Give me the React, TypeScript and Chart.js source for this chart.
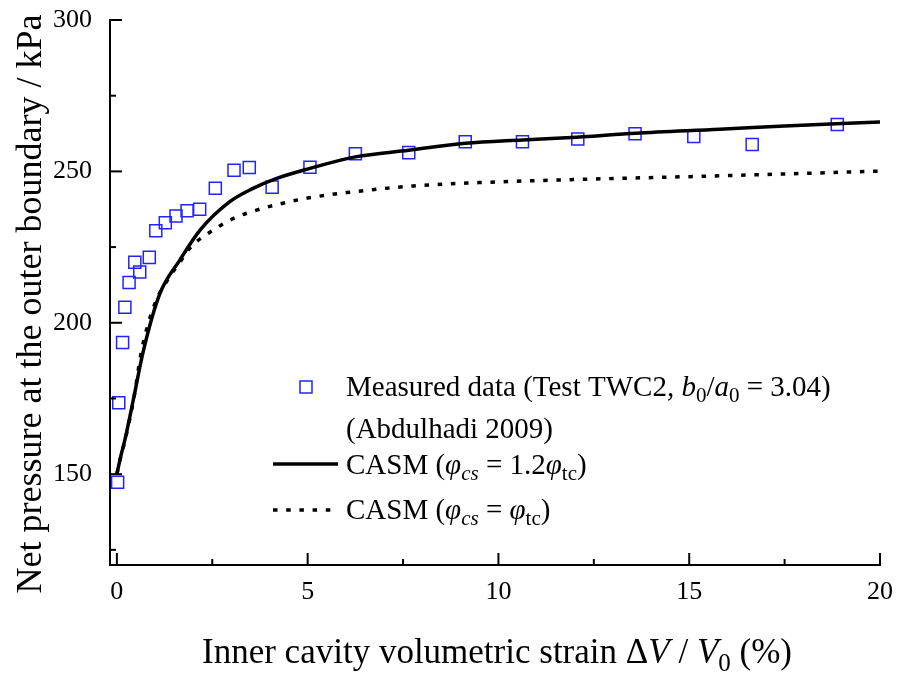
import React, { useEffect, useRef } from "react";
import { Chart, registerables } from "chart.js";

Chart.register(...registerables);

// Measured data (Test TWC2, Abdulhadi 2009)
const measuredX = [0.02, 0.05, 0.15, 0.21, 0.32, 0.47, 0.6, 0.85, 1.02, 1.27, 1.55, 1.84, 2.17, 2.58, 3.07, 3.47, 4.07, 5.06, 6.25, 7.65, 9.13, 10.63, 12.08, 13.58, 15.12, 16.65, 18.88];
const measuredY = [147.3, 173.6, 193.5, 205.1, 213.3, 220.0, 216.8, 221.6, 230.4, 233.0, 235.3, 237.0, 237.5, 244.4, 250.4, 251.3, 244.8, 251.4, 255.8, 256.2, 259.8, 259.8, 260.7, 262.4, 261.5, 258.9, 265.5];

// CASM prediction, phi_cs = 1.2 phi_tc
const casmHighX = [0, 0.1, 0.21, 0.43, 0.69, 1.13, 1.65, 2.18, 2.96, 3.57, 4.19, 5.06, 6.25, 7.65, 9.13, 10.63, 12.05, 13.6, 15.8, 17.5, 20];
const casmHighY = [150, 155.8, 161.3, 174.5, 190.5, 209.7, 220.7, 230.6, 240, 244.4, 247.7, 251, 254.8, 257, 259.3, 260.4, 261.3, 262.6, 263.9, 265.0, 266.3];

// CASM prediction, phi_cs = phi_tc
const casmLowX = [0, 0.1, 0.21, 0.43, 0.65, 1.0, 1.4, 1.65, 1.87, 2.09, 2.39, 3.01, 3.66, 4.32, 5.0, 6.02, 7.77, 9.51, 12.0, 16.0, 20];
const casmLowY = [150, 155.6, 161, 174, 191, 206.4, 215.5, 220, 224, 226.8, 229.5, 234.2, 237.2, 239.4, 241.2, 243, 245.2, 246.3, 247.3, 248.6, 250.1];

const xMajorTicks = [0, 5, 10, 15, 20];
const xMinorTicks = [2.5, 7.5, 12.5, 17.5];
const yMajorTicks = [150, 200, 250, 300];
const yMinorTicks = [125, 175, 225, 275];

const FONT = '"Liberation Serif", "Times New Roman", serif';
const MARKER_BLUE = "#2323ff";

type Seg = { t: string; i?: boolean; sub?: boolean };

function segFont(s: Seg, size: number) {
  const sz = s.sub ? Math.round(size * 0.72) : size;
  return `${s.i ? "italic " : ""}${sz}px ${FONT}`;
}

function richWidth(ctx: CanvasRenderingContext2D, segs: Seg[], size: number) {
  let w = 0;
  for (const s of segs) {
    ctx.font = segFont(s, size);
    w += ctx.measureText(s.t).width;
  }
  return w;
}

function drawRich(ctx: CanvasRenderingContext2D, segs: Seg[], x: number, y: number, size: number) {
  ctx.textBaseline = "alphabetic";
  ctx.textAlign = "left";
  let cx = x;
  for (const s of segs) {
    ctx.font = segFont(s, size);
    ctx.fillText(s.t, cx, s.sub ? y + size * 0.22 : y);
    cx += ctx.measureText(s.t).width;
  }
}

const legendMeasured: Seg[] = [
  { t: "Measured data (Test TWC2, " },
  { t: "b", i: true },
  { t: "0", sub: true },
  { t: "/" },
  { t: "a", i: true },
  { t: "0", sub: true },
  { t: " = 3.04)" },
];
const legendSource: Seg[] = [{ t: "(Abdulhadi 2009)" }];
const legendHigh: Seg[] = [
  { t: "CASM (" },
  { t: "φ", i: true },
  { t: "cs", i: true, sub: true },
  { t: " = 1.2" },
  { t: "φ", i: true },
  { t: "tc", sub: true },
  { t: ")" },
];
const legendLow: Seg[] = [
  { t: "CASM (" },
  { t: "φ", i: true },
  { t: "cs", i: true, sub: true },
  { t: " = " },
  { t: "φ", i: true },
  { t: "tc", sub: true },
  { t: ")" },
];
const xTitle: Seg[] = [
  { t: "Inner cavity volumetric strain Δ" },
  { t: "V", i: true },
  { t: " / " },
  { t: "V", i: true },
  { t: "0", sub: true },
  { t: " (%)" },
];
const yTitle: Seg[] = [{ t: "Net pressure at the outer boundary / kPa" }];

const DOT_DASH = [4.5, 8.7];

// plot frame inside the 901x675 canvas
const FRAME = { left: 110, right: 880, top: 20, bottom: 565 };

const decorPlugin = {
  id: "decor",
  afterDraw(chart: any) {
    const ctx: CanvasRenderingContext2D = chart.ctx;
    const xs = chart.scales.x;
    const ys = chart.scales.y;
    const { left, bottom } = chart.chartArea;
    ctx.save();
    ctx.strokeStyle = "#000";
    ctx.lineWidth = 2;
    ctx.lineCap = "butt";
    // inward tick marks
    const tick = (x1: number, y1: number, x2: number, y2: number) => {
      ctx.beginPath();
      ctx.moveTo(x1, y1);
      ctx.lineTo(x2, y2);
      ctx.stroke();
    };
    for (const v of xMajorTicks) {
      const px = xs.getPixelForValue(v);
      tick(px, bottom, px, bottom - 12);
    }
    for (const v of xMinorTicks) {
      const px = xs.getPixelForValue(v);
      tick(px, bottom, px, bottom - 6);
    }
    for (const v of yMajorTicks) {
      const py = ys.getPixelForValue(v);
      tick(left, py, left + 12, py);
    }
    for (const v of yMinorTicks) {
      const py = ys.getPixelForValue(v);
      tick(left, py, left + 6, py);
    }

    // legend
    ctx.fillStyle = "#000";
    const size = 29;
    ctx.strokeStyle = MARKER_BLUE;
    ctx.lineWidth = 1.5;
    ctx.strokeRect(300, 381, 12, 12);
    drawRich(ctx, legendMeasured, 346, 396, size);
    drawRich(ctx, legendSource, 346, 438, size);

    ctx.strokeStyle = "#000";
    ctx.lineWidth = 3.5;
    ctx.beginPath();
    ctx.moveTo(273, 464);
    ctx.lineTo(338, 464);
    ctx.stroke();
    drawRich(ctx, legendHigh, 346, 474, size);

    ctx.setLineDash(DOT_DASH);
    ctx.beginPath();
    ctx.moveTo(273, 510);
    ctx.lineTo(338, 510);
    ctx.stroke();
    ctx.setLineDash([]);
    drawRich(ctx, legendLow, 346, 519, size);

    // axis titles
    const xsize = 35;
    const xw = richWidth(ctx, xTitle, xsize);
    drawRich(ctx, xTitle, 497 - xw / 2, 663, xsize);

    const ysize = 36;
    const yw = richWidth(ctx, yTitle, ysize);
    ctx.translate(41, 304);
    ctx.rotate(-Math.PI / 2);
    drawRich(ctx, yTitle, -yw / 2, 0, ysize);
    ctx.restore();
  },
};

export default function App() {
  const canvasRef = useRef<HTMLCanvasElement | null>(null);

  useEffect(() => {
    document.body.style.margin = "0";
    const canvas = canvasRef.current;
    if (!canvas) return;

    const chart = new Chart(canvas, {
      type: "scatter",
      data: {
        datasets: [
          {
            label: "CASM high",
            data: casmHighX.map((x, i) => ({ x, y: casmHighY[i] })),
            showLine: true,
            borderColor: "#000",
            borderWidth: 3.5,
            pointRadius: 0,
            cubicInterpolationMode: "monotone",
            clip: false,
          },
          {
            label: "CASM low",
            data: casmLowX.map((x, i) => ({ x, y: casmLowY[i] })),
            showLine: true,
            borderColor: "#000",
            borderWidth: 3.5,
            borderDash: DOT_DASH,
            pointRadius: 0,
            cubicInterpolationMode: "monotone",
            clip: false,
          },
          {
            label: "Measured",
            data: measuredX.map((x, i) => ({ x, y: measuredY[i] })),
            showLine: false,
            pointStyle: "rect",
            pointRadius: 8.5,
            pointBorderWidth: 1.5,
            pointBorderColor: MARKER_BLUE,
            pointBackgroundColor: "rgba(0,0,0,0)",
            clip: false,
          },
        ],
      },
      options: {
        animation: false,
        responsive: false,
        devicePixelRatio: 1,
        layout: {
          padding: {
            left: 0,
            right: 901 - FRAME.right,
            top: FRAME.top,
            bottom: 0,
          },
        },
        plugins: {
          legend: { display: false },
          tooltip: { enabled: false },
        },
        scales: {
          x: {
            type: "linear",
            min: -0.18,
            max: 20,
            afterBuildTicks: (s: any) => {
              s.ticks = xMajorTicks.map((v) => ({ value: v }));
            },
            afterFit: (s: any) => {
              s.height = 675 - FRAME.bottom;
              s.paddingLeft = 0;
              s.paddingRight = 0;
              s.paddingTop = 0;
              s.paddingBottom = 0;
            },
            grid: { display: false, drawTicks: false, tickLength: 0 },
            border: { display: true, color: "#000", width: 2 },
            ticks: {
              color: "#000",
              font: { family: FONT, size: 26 },
              padding: 12,
              maxRotation: 0,
            },
          },
          y: {
            type: "linear",
            min: 120,
            max: 300,
            afterBuildTicks: (s: any) => {
              s.ticks = yMajorTicks.map((v) => ({ value: v }));
            },
            afterFit: (s: any) => {
              s.width = FRAME.left;
              s.paddingLeft = 0;
              s.paddingRight = 0;
              s.paddingTop = 0;
              s.paddingBottom = 0;
            },
            grid: { display: false, drawTicks: false, tickLength: 0 },
            border: { display: true, color: "#000", width: 2 },
            ticks: {
              color: "#000",
              font: { family: FONT, size: 26 },
              padding: 18,
            },
          },
        },
      },
      plugins: [decorPlugin],
    });

    return () => chart.destroy();
  }, []);

  return (
    <div style={{ width: 901, height: 675, background: "#fff" }}>
      <canvas ref={canvasRef} width={901} height={675} style={{ display: "block" }} />
    </div>
  );
}
